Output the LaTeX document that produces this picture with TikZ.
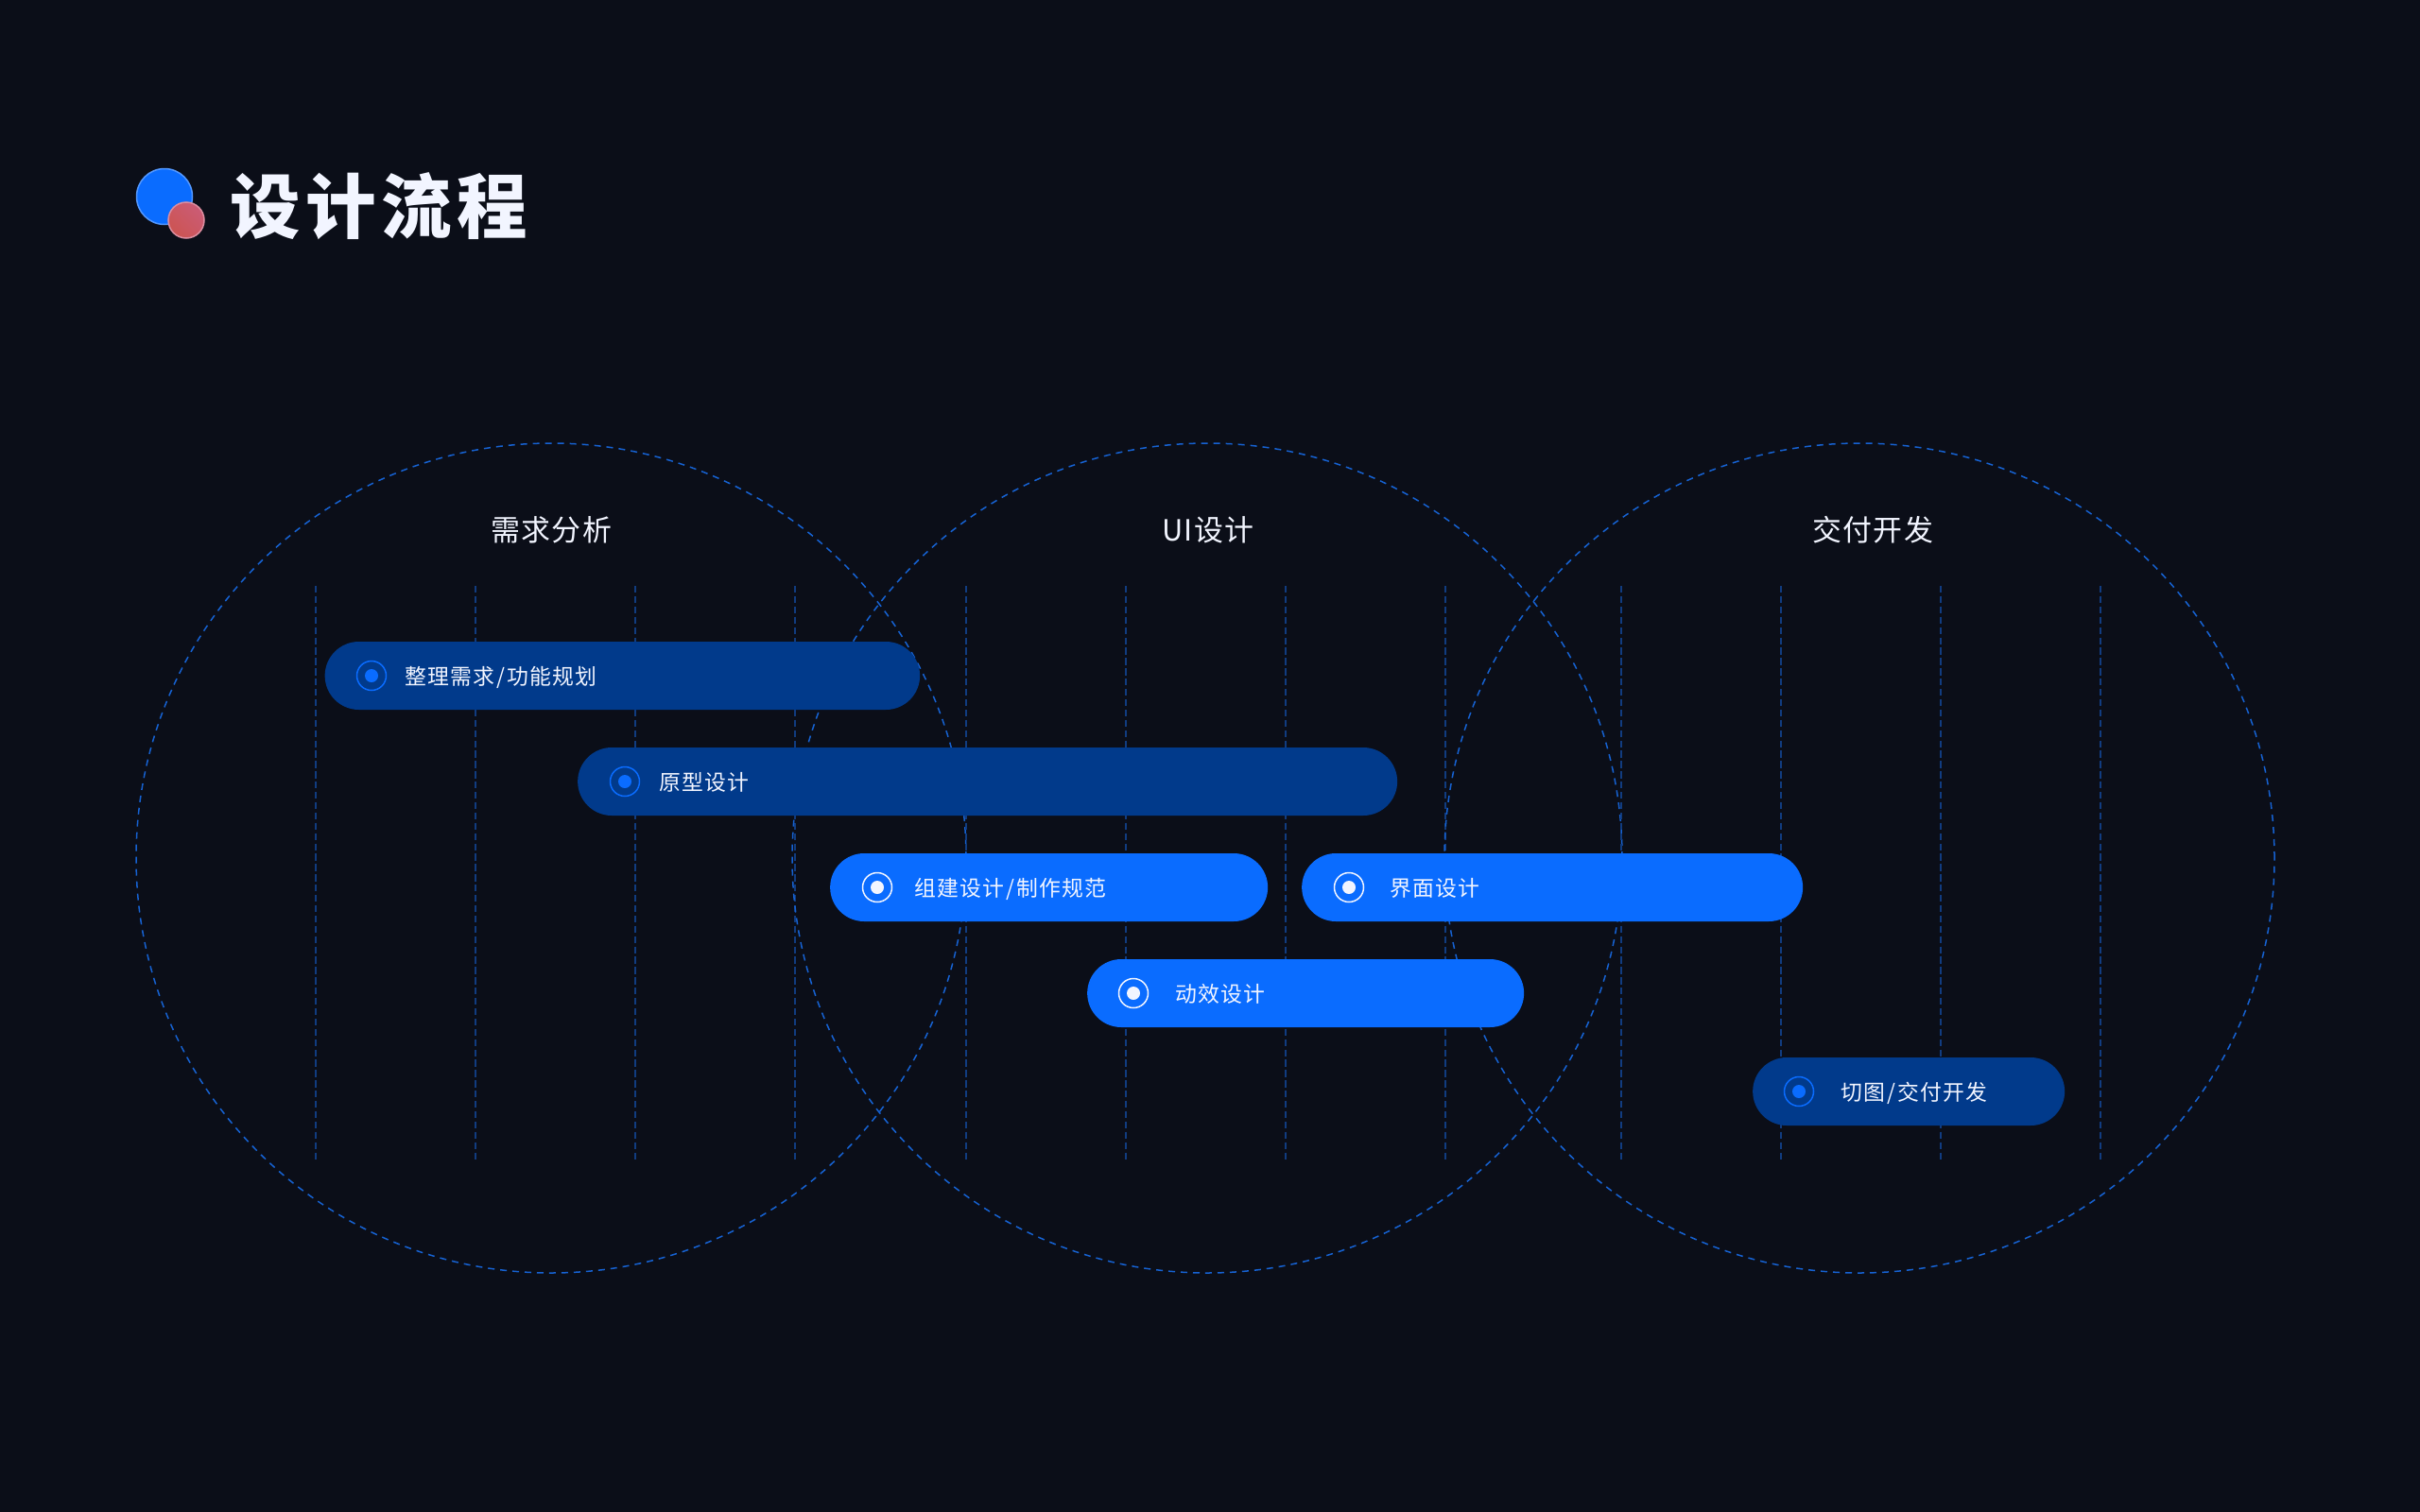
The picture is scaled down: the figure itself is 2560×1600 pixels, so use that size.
\documentclass[tikz,border=0pt]{standalone}
\usepackage{fontspec}
\usepackage{xcolor}
\usepackage{tikz}
\newfontfamily\cjk[LetterSpace=5]{Noto Sans CJK SC}
\newfontfamily\cjkhead[LetterSpace=4.5]{Noto Sans CJK SC}
\newfontfamily\cjktitle[LetterSpace=7.5]{Noto Sans CJK SC Black}
\definecolor{page}{RGB}{11,14,24}
\definecolor{accent}{RGB}{10,108,255}
\definecolor{deep}{RGB}{1,58,139}
\definecolor{rule}{RGB}{22,98,210}
\definecolor{faint}{RGB}{17,60,128}
\definecolor{snow}{RGB}{242,245,255}
\definecolor{rosy}{RGB}{203,92,118}
\definecolor{brick}{RGB}{204,84,82}
\tikzset{
  bigring/.style={circle, draw=rule, line width=1.5*0.05cm, dash pattern=on 7*0.05cm off 6*0.05cm, minimum size=878*0.05cm, inner sep=0pt},
  gridline/.style={draw=faint, line width=2*0.05cm, dash pattern=on 7.3*0.05cm off 3.6*0.05cm},
  heading/.style={text=snow, font=\cjkhead\fontsize{44pt}{50pt}\selectfont},
  barbase/.style={rounded corners=36*0.05cm, minimum height=72*0.05cm, inner sep=0pt, anchor=west},
  darkbar/.style={barbase, fill=deep},
  brightbar/.style={barbase, fill=accent},
  barlabel/.style={text=snow, anchor=west, inner sep=0pt, text height=32pt, text depth=4pt, font=\cjk\fontsize{32.5pt}{38pt}\selectfont},
  darkring/.style={circle, draw=accent, line width=1.5*0.05cm, minimum size=31*0.05cm, inner sep=0pt},
  darkdot/.style={circle, fill=accent, minimum size=14*0.05cm, inner sep=0pt},
  brightring/.style={circle, draw=snow, line width=1.5*0.05cm, minimum size=31*0.05cm, inner sep=0pt},
  brightdot/.style={circle, fill=snow, minimum size=14*0.05cm, inner sep=0pt},
}
\newcommand{\sep}{\hspace{3.5pt}/\hspace{3.5pt}}
\begin{document}
\begin{tikzpicture}[x=0.05cm, y=-0.05cm]
  \useasboundingbox (0,0) rectangle (2560,1599.6);
  \fill[page] (-5,-5) rectangle (2565,1605);
  % title
  \node[circle, fill=accent, draw=accent!70!white, line width=1.5*0.05cm, minimum size=59*0.05cm, inner sep=0pt] (logoblue) at (174,208) {};
  \node[circle, left color=rosy, right color=brick, shading angle=-45, draw=rosy!70!white, line width=1.5*0.05cm, minimum size=38*0.05cm, inner sep=0pt] (logored) at (197,233) {};
  \node[anchor=west, inner sep=0pt, text=snow, font=\cjktitle\fontsize{106pt}{110pt}\selectfont] (title) at (243,218) {设计流程};
  % circles and their grid lines
  \foreach \cx/\hx/\gx/\hd/\nm in {583/583/334/需求分析/need, 1277/1278/1022/UI设计/ui, 1967/1981/1715/交付开发/dev}{
    \node[bigring] (ring\nm) at (\cx,908) {};
    \node[heading] (head\nm) at (\hx,561) {\hd};
    \foreach \k in {0,1,2,3}{
      \draw[gridline] (\gx+\k*169,620) -- (\gx+\k*169,1230);
    }
  }
  % bars
  \foreach \n/\bx/\bw/\by/\ix/\tx/\kind/\lab in {%
      1/343.5/629.5/715/393/428/dark/{整理需求\sep 功能规划},
      2/611/867/827/661/697/dark/原型设计,
      3/878/463/939/928/967/bright/{组建设计\sep 制作规范},
      4/1377/530/939/1427/1470/bright/界面设计,
      5/1150/462/1051/1199/1243/bright/动效设计,
      6/1854/330/1155/1903/1947/dark/{切图\sep 交付开发}}{
    \node[\kind bar, minimum width=\bw*0.05cm] (bar\n) at (\bx,\by) {};
    \node[\kind ring] (ring\n) at (\ix,\by) {};
    \node[\kind dot] (dot\n) at (\ix,\by) {};
    \node[barlabel] (label\n) at (\tx,\by) {\lab};
  }
\end{tikzpicture}
\end{document}
